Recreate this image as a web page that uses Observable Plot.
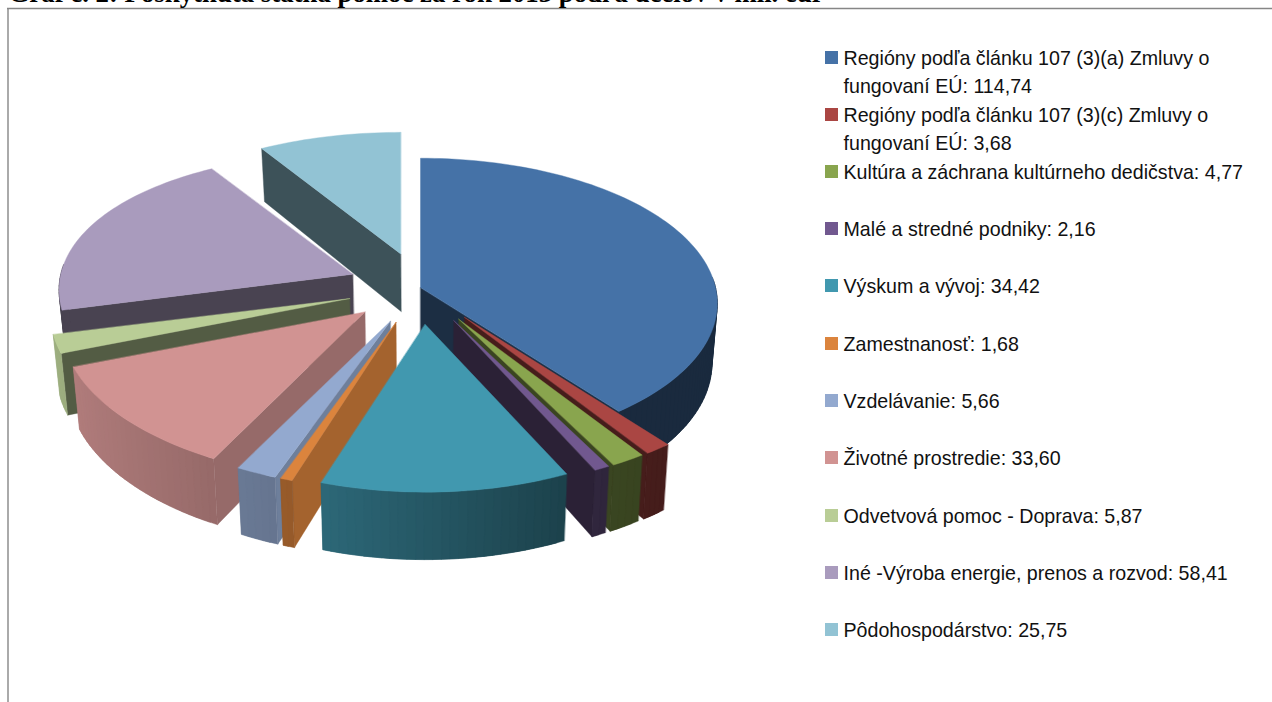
<!DOCTYPE html>
<html><head><meta charset="utf-8">
<script src="https://cdn.jsdelivr.net/npm/d3@7"></script>
<script src="https://cdn.jsdelivr.net/npm/@observablehq/plot@0.6"></script>
<style>html,body{margin:0;padding:0;background:#fff;overflow:hidden}svg{display:block}</style>
</head><body><div id="chart"></div>
<script>
const categories = ["Regióny podľa článku 107 (3)(a) Zmluvy o fungovaní EÚ","Regióny podľa článku 107 (3)(c) Zmluvy o fungovaní EÚ","Kultúra a záchrana kultúrneho dedičstva","Malé a stredné podniky","Výskum a vývoj","Zamestnanosť","Vzdelávanie","Životné prostredie","Odvetvová pomoc - Doprava","Iné -Výroba energie, prenos a rozvod","Pôdohospodárstvo"];
const values = [114.74,3.68,4.77,2.16,34.42,1.68,5.66,33.60,5.87,58.41,25.75];
const valueLabels = ["114,74","3,68","4,77","2,16","34,42","1,68","5,66","33,60","5,87","58,41","25,75"];
const colors = ["#4572a7","#aa4643","#89a54e","#71588f","#4198af","#db843d","#93a9cf","#d19392","#b9cd96","#a99bbd","#92c3d4"];
const wallShade = [.4,.41,.42,.38,.4,.75,.75,.72,.45,.43,.42];
const explode = [0,.25,.25,.25,.25,.25,.25,.25,.25,.25,.25];
const legendLines = [
 ["Regióny podľa článku 107 (3)(a) Zmluvy o","fungovaní EÚ: 114,74"],
 ["Regióny podľa článku 107 (3)(c) Zmluvy o","fungovaní EÚ: 3,68"],
 ["Kultúra a záchrana kultúrneho dedičstva: 4,77"],
 ["Malé a stredné podniky: 2,16"],
 ["Výskum a vývoj: 34,42"],
 ["Zamestnanosť: 1,68"],
 ["Vzdelávanie: 5,66"],
 ["Životné prostredie: 33,60"],
 ["Odvetvová pomoc - Doprava: 5,87"],
 ["Iné -Výroba energie, prenos a rozvod: 58,41"],
 ["Pôdohospodárstvo: 25,75"]];
const legendY = [58,115,172,229,286,344,401,458,516,573,630];
const titleText = "Graf č. 2: Poskytnutá štátna pomoc za rok 2013 podľa účelov v mil. eur";

const W=1272,H=702,cx=420,cy=287,R=295,Rk=143.5,p=.11,D=59;
const deg=Math.PI/180;
const unit=a=>[Math.sin(a*deg),-Math.cos(a*deg)];
const total=d3.sum(values);
let acc=0;
const slices=values.map((v,i)=>{const a0=acc;acc+=v/total*360;const mid=(a0+acc)/2;
  const u=unit(mid);const E=explode[i];
  const d=1-p*E*u[1];
  return {i,a0,a1:acc,E,ex:E*u[0],ey:E*u[1],ax:cx+R*E*u[0]/d,ay:cy+Rk*E*u[1]/d};});
function upper(s,a){const [X,Y]=unit(a);const d=1-p*(Y+s.ey);
  const dy=s.E>0?1-.16*Y:1-p*Y, ry=s.E>0?141:Rk;
  return [s.ax+R*X/d,s.ay+ry*Y/dy,Y+s.ey];}
function apexOf(s){return [s.ax,s.ay,s.ey];}
function lower(pt){const dep=D/(1-.1*pt[2]);return [pt[0]-(pt[0]-cx)*.018,pt[1]+dep];}
function arcAngles(a0,a1){const n=Math.max(2,Math.ceil((a1-a0)/1.5));return d3.range(n+1).map(k=>a0+(a1-a0)*k/n);}
const polys=[];let pid=0;
function poly(pts,c){const id=pid++;pts.forEach(q=>polys.push({id,x:q[0],y:q[1],c}));}
const shade=(c,f)=>{const r=d3.rgb(c);return d3.rgb(r.r*f,r.g*f,r.b*f).formatHex();};
const rimScale=d3.scaleLinear([-1,-.3,.45,1],[.86,.68,.42,.37]).clamp(true);
function rimShade(i,a){return i==0?.37:i==9?wallShade[9]:rimScale(Math.sin(a*deg));}
function drawSlice(s,side){
  const c=colors[s.i];
  const edge=side=="end"?s.a1:side=="start"?s.a0:null;
  if(edge!==null){const A=apexOf(s),B=upper(s,edge);poly([A,B,lower(B),lower(A)],shade(c,wallShade[s.i]));}
  const lo=Math.max(s.a0,86),hi=Math.min(s.a1,274);
  if(hi>lo){const as=arcAngles(lo,hi);
    // each strip runs on under the next one, so no seams show between them
    for(let k=0;k<as.length-1;k++){
      const part=as.slice(k,k+3);
      const tops=part.map(a=>upper(s,a));
      poly([...tops,...tops.slice().reverse().map(lower)],shade(c,rimShade(s.i,(as[k]+as[k+1])/2)));}}
  const as=arcAngles(s.a0,s.a1);
  poly([apexOf(s),...as.map(a=>upper(s,a))],c);
}
// back to front: the far slices first, then both sides towards the front slice
[[10,"start"],[9,"start"],[0,"end"],[1,"end"],[2,"end"],[3,"end"],[8,"start"],[7,"start"],[6,"start"],[5,"start"],[4,null]]
  .forEach(([i,side])=>drawSlice(slices[i],side));

const legendRows=legendLines.flatMap((ls,i)=>ls.map((t,k)=>({t,x:843,y:legendY[i]+k*28})));
const swatches=legendY.map((y,i)=>({x1:825,x2:838,y1:y-7,y2:y+6,c:colors[i]}));

const plot=Plot.plot({width:W,height:H,margin:0,
  x:{domain:[0,W],range:[0,W],axis:null},y:{domain:[0,H],range:[0,H],axis:null},
  color:{type:"identity"},
  marks:[
    Plot.ruleX([7.5],{y1:8,y2:H,stroke:"#868686",strokeWidth:1.4}),
    Plot.ruleY([8],{x1:7,x2:W,stroke:"#868686",strokeWidth:1.4}),
    Plot.line(polys,{x:"x",y:"y",z:"id",fill:"c",stroke:"c",strokeWidth:.4,curve:"linear-closed"}),
    Plot.rect(swatches,{x1:"x1",x2:"x2",y1:"y1",y2:"y2",fill:"c"}),
    Plot.text(legendRows,{x:"x",y:"y",text:"t",textAnchor:"start",fontSize:21,fontFamily:"Liberation Sans",fill:"#111",className:"legend-text"}),
    Plot.text([titleText],{x:8,y:1.5,textAnchor:"start",lineAnchor:"bottom",fontSize:26.8,fontWeight:"bold",fontFamily:"Liberation Serif",fill:"#000"})
  ]});
document.getElementById("chart").appendChild(plot);
plot.querySelectorAll(".legend-text text").forEach(t=>{
  t.setAttribute("textLength",t.getComputedTextLength()*.935);
  t.setAttribute("lengthAdjust","spacingAndGlyphs");
});
</script></body></html>
